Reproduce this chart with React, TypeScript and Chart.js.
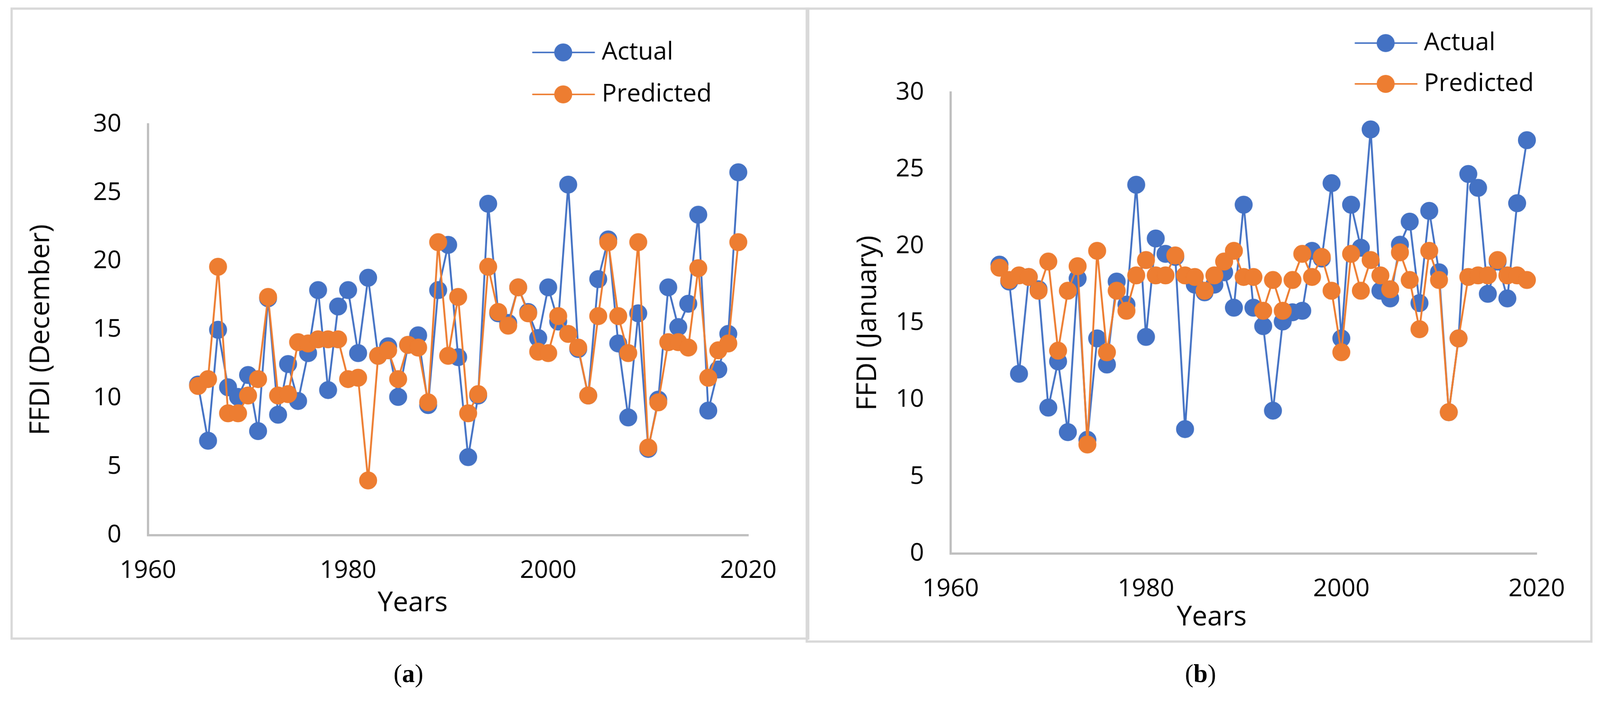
import React, { useEffect, useRef } from "react";
import { Chart, registerables } from "chart.js";

Chart.register(...registerables);

// ---------- data ----------
const years = [
  1965, 1966, 1967, 1968, 1969, 1970, 1971, 1972, 1973, 1974, 1975, 1976, 1977, 1978,
  1979, 1980, 1981, 1982, 1983, 1984, 1985, 1986, 1987, 1988, 1989, 1990, 1991, 1992,
  1993, 1994, 1995, 1996, 1997, 1998, 1999, 2000, 2001, 2002, 2003, 2004, 2005, 2006,
  2007, 2008, 2009, 2010, 2011, 2012, 2013, 2014, 2015, 2016, 2017, 2018, 2019,
];

const decActual = [
  11.0, 6.9, 15.0, 10.8, 10.1, 11.7, 7.6, 17.3, 8.8, 12.5, 9.8, 13.3, 17.9, 10.6,
  16.7, 17.9, 13.3, 18.8, 13.1, 13.8, 10.1, 13.9, 14.6, 9.5, 17.9, 21.2, 13.0, 5.7,
  10.2, 24.2, 16.2, 15.5, 18.1, 16.3, 14.4, 18.1, 15.6, 25.6, 13.6, 10.2, 18.7, 21.6,
  14.0, 8.6, 16.2, 6.3, 9.9, 18.1, 15.2, 16.9, 23.4, 9.1, 12.1, 14.7, 26.5,
];

const decPredicted = [
  10.9, 11.4, 19.6, 8.9, 8.9, 10.2, 11.4, 17.4, 10.2, 10.3, 14.1, 14.0, 14.3, 14.3,
  14.3, 11.4, 11.5, 4.0, 13.1, 13.5, 11.4, 13.9, 13.7, 9.7, 21.4, 13.1, 17.4, 8.9,
  10.3, 19.6, 16.3, 15.3, 18.1, 16.2, 13.4, 13.3, 16.0, 14.7, 13.7, 10.2, 16.0, 21.4,
  16.0, 13.3, 21.4, 6.4, 9.7, 14.1, 14.1, 13.7, 19.5, 11.5, 13.5, 14.0, 21.4,
];

const janActual = [
  18.8, 17.7, 11.7, 18.0, 17.2, 9.5, 12.5, 7.9, 17.9, 7.4, 14.0, 12.3, 17.7, 16.2,
  24.0, 14.1, 20.5, 19.5, 19.3, 8.1, 17.5, 17.0, 17.5, 18.3, 16.0, 22.7, 16.0, 14.8,
  9.3, 15.1, 15.7, 15.8, 19.7, 19.2, 24.1, 14.0, 22.7, 19.9, 27.6, 17.1, 16.6, 20.1,
  21.6, 16.3, 22.3, 18.3, 9.2, 14.0, 24.7, 23.8, 16.9, 19.0, 16.6, 22.8, 26.9,
];

const janPredicted = [
  18.6, 17.8, 18.1, 18.0, 17.1, 19.0, 13.2, 17.1, 18.7, 7.1, 19.7, 13.1, 17.1, 15.8,
  18.1, 19.1, 18.1, 18.1, 19.4, 18.1, 18.0, 17.1, 18.1, 19.0, 19.7, 18.0, 18.0, 15.8,
  17.8, 15.8, 17.8, 19.5, 18.0, 19.3, 17.1, 13.1, 19.5, 17.1, 19.1, 18.1, 17.2, 19.6,
  17.8, 14.6, 19.7, 17.8, 9.2, 14.0, 18.0, 18.1, 18.1, 19.1, 18.1, 18.1, 17.8,
];

const seriesNames = ["Actual", "Predicted"];
const xTickValues = [1960, 1980, 2000, 2020];
const yTickValues = [0, 5, 10, 15, 20, 25, 30];

// ---------- style ----------
const BLUE = "#4472C4";
const ORANGE = "#ED7D31";
const AXIS = "#BFBFBF";
const FONT = "'Open Sans', 'Noto Sans', sans-serif";
const PAGE_W = 4270;
const PAGE_H = 1862;

type LegendCfg = { lineX1: number; lineX2: number; markerX: number; textX: number; rows: number[] };

type PanelProps = {
  actual: number[];
  predicted: number[];
  yTitle: string;
  xTitle: string;
  width: number;
  height: number;
  area: { left: number; right: number; top: number; bottom: number };
  yTitlePad: number;
  xTitlePad: number;
  legend: LegendCfg;
};

function makeLegendPlugin(cfg: LegendCfg) {
  return {
    id: "excelLegend",
    afterDraw(chart: any) {
      const ctx = chart.ctx as CanvasRenderingContext2D;
      ctx.save();
      chart.data.datasets.forEach((ds: any, i: number) => {
        const y = cfg.rows[i];
        ctx.strokeStyle = ds.borderColor;
        ctx.lineWidth = 4;
        ctx.lineCap = "round";
        ctx.beginPath();
        ctx.moveTo(cfg.lineX1, y);
        ctx.lineTo(cfg.lineX2, y);
        ctx.stroke();
        ctx.fillStyle = ds.borderColor;
        ctx.beginPath();
        ctx.arc(cfg.markerX, y, 24, 0, Math.PI * 2);
        ctx.fill();
        ctx.fillStyle = "#000";
        ctx.font = `66px ${FONT}`;
        ctx.textAlign = "left";
        ctx.textBaseline = "middle";
        ctx.fillText(ds.label, cfg.textX, y);
      });
      ctx.restore();
    },
  };
}

function FfdiChart(p: PanelProps) {
  const ref = useRef<HTMLCanvasElement>(null);

  useEffect(() => {
    if (!ref.current) return;
    const tickFont = { family: FONT, size: 66 };
    const titleFont = { family: FONT, size: 73 };
    const mkSeries = (label: string, values: number[], color: string, order: number) => ({
      label,
      data: years.map((x, i) => ({ x, y: values[i] })),
      borderColor: color,
      backgroundColor: color,
      pointBackgroundColor: color,
      pointBorderColor: color,
      borderWidth: 5,
      pointRadius: 23,
      pointBorderWidth: 2,
      pointHoverRadius: 23,
      tension: 0,
      fill: false,
      order,
    });

    const chart = new Chart(ref.current, {
      type: "line",
      data: {
        datasets: [
          mkSeries(seriesNames[0], p.actual, BLUE, 2),
          mkSeries(seriesNames[1], p.predicted, ORANGE, 1),
        ],
      },
      options: {
        animation: false,
        responsive: true,
        maintainAspectRatio: false,
        events: [],
        layout: {
          padding: { left: 0, top: p.area.top, right: p.width - p.area.right, bottom: 0 },
        },
        plugins: {
          legend: { display: false },
          tooltip: { enabled: false },
        },
        scales: {
          x: {
            type: "linear",
            min: 1960,
            max: 2020,
            afterBuildTicks: (s: any) => {
              s.ticks = xTickValues.map((v) => ({ value: v }));
            },
            afterFit: (s: any) => {
              s.height = p.height - p.area.bottom;
            },
            ticks: {
              font: tickFont,
              color: "#000",
              padding: 56,
              maxRotation: 0,
              autoSkip: false,
              callback: (v: any) => String(v),
            },
            grid: { display: false, drawTicks: false },
            border: { display: true, color: AXIS, width: 6 },
            title: {
              display: true,
              text: p.xTitle,
              font: titleFont,
              color: "#000",
              padding: { top: 0, bottom: p.xTitlePad },
            },
          },
          y: {
            type: "linear",
            min: 0,
            max: 30,
            afterBuildTicks: (s: any) => {
              s.ticks = yTickValues.map((v) => ({ value: v }));
            },
            afterFit: (s: any) => {
              s.width = p.area.left;
            },
            ticks: {
              font: tickFont,
              color: "#000",
              padding: 71,
              autoSkip: false,
              callback: (v: any) => String(v),
            },
            grid: { display: false, drawTicks: false },
            border: { display: true, color: AXIS, width: 6 },
            title: {
              display: true,
              text: p.yTitle,
              font: titleFont,
              color: "#000",
              padding: { top: p.yTitlePad, bottom: 0 },
            },
          },
        },
      } as any,
      plugins: [makeLegendPlugin(p.legend)],
    });
    return () => chart.destroy();
  }, []);

  return (
    <div style={{ width: p.width, height: p.height, position: "relative" }}>
      <canvas ref={ref} />
    </div>
  );
}

const abs = (left: number, top: number, width: number, height: number): React.CSSProperties => ({
  position: "absolute",
  left,
  top,
  width,
  height,
  boxSizing: "border-box",
});

const captionStyle = (center: number): React.CSSProperties => ({
  position: "absolute",
  left: center - 150,
  top: 1763,
  width: 300,
  height: 70,
  lineHeight: "70px",
  textAlign: "center",
  fontFamily: "'Liberation Serif', 'DejaVu Serif', serif",
  fontSize: 68,
  color: "#000",
});

export default function App() {
  const vw = typeof window !== "undefined" ? window.innerWidth : PAGE_W;
  const vh = typeof window !== "undefined" ? window.innerHeight : PAGE_H;
  const s = Math.min(vw / PAGE_W, vh / PAGE_H);

  return (
    <div
      style={{
        position: "absolute",
        left: 0,
        top: 0,
        width: PAGE_W * s,
        height: PAGE_H * s,
        overflow: "hidden",
        background: "#fff",
      }}
    >
      <div
        style={{
          position: "absolute",
          left: 0,
          top: 0,
          width: PAGE_W,
          height: PAGE_H,
          transform: `scale(${s})`,
          transformOrigin: "0 0",
          background: "#fff",
        }}
      >
        <div style={{ ...abs(28, 20, 2132, 1688), border: "6px solid #D9D9D9" }} />
        <div style={{ ...abs(2150, 20, 2100, 1696), border: "6px solid #D9D9D9" }} />

        <div style={abs(40, 30, 2110, 1670)}>
          <FfdiChart
            actual={decActual}
            predicted={decPredicted}
            yTitle="FFDI (December)"
            xTitle={"Years" + " ".repeat(10)}
            width={2110}
            height={1670}
            area={{ left: 355, right: 1957, top: 302, bottom: 1399 }}
            yTitlePad={26}
            xTitlePad={45}
            legend={{ lineX1: 1382, lineX2: 1546, markerX: 1463, textX: 1566, rows: [110, 222] }}
          />
        </div>

        <div style={abs(2162, 30, 2082, 1676)}>
          <FfdiChart
            actual={janActual}
            predicted={janPredicted}
            yTitle="FFDI (January)"
            xTitle={"Years" + " ".repeat(9)}
            width={2082}
            height={1676}
            area={{ left: 375, right: 1939, top: 217, bottom: 1448 }}
            yTitlePad={111}
            xTitlePad={13}
            legend={{ lineX1: 1455, lineX2: 1619, markerX: 1536, textX: 1638, rows: [85, 194] }}
          />
        </div>

        <div style={captionStyle(1090)}>
          (<b>a</b>)
        </div>
        <div style={captionStyle(3204)}>
          (<b>b</b>)
        </div>
      </div>
    </div>
  );
}
